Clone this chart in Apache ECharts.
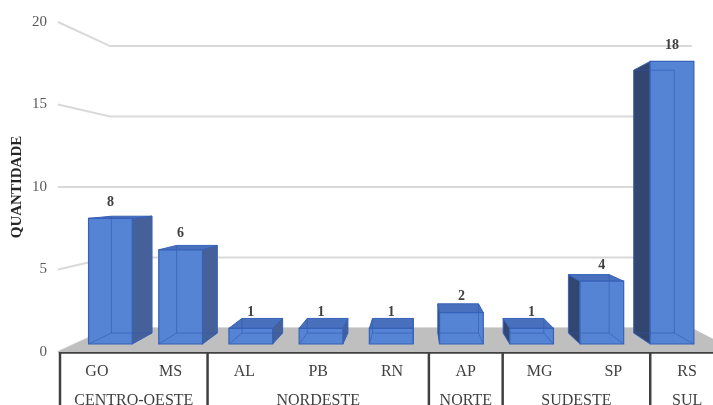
<!DOCTYPE html>
<html>
<head>
<meta charset="utf-8">
<script src="https://cdn.jsdelivr.net/npm/echarts@6/dist/echarts.min.js"></script>
<style>
  html, body { margin: 0; padding: 0; background: #ffffff; }
  #chart { width: 713px; height: 405px; }
</style>
</head>
<body>
<div id="chart"></div>
<script>
// Quantidade por estado, agrupada por região
const regions = ['CENTRO-OESTE', 'NORDESTE', 'NORTE', 'SUDESTE', 'SUL'];
const states = ['GO', 'MS', 'AL', 'PB', 'RN', 'AP', 'MG', 'SP', 'RS'];
const stateRegion = [0, 0, 1, 1, 1, 2, 3, 3, 4];
const quantities = [8, 6, 1, 1, 1, 2, 1, 4, 18];
const yTicks = [0, 5, 10, 15, 20];

// perspective setup: vanishing point x, eye level value, depth scales
const VP_X = 415;
const EYE_VALUE = 10;
const K_WALL = 0.854;      // back wall
const K_BAR_FRONT = 0.9515;
const K_BAR_BACK = 0.885;
const BAR_RATIO = 0.623;
const BAR_SHIFT = -2;
const FLOOR_EXTRA = 15;
const SERIF = '"Liberation Serif", "Times New Roman", serif';

function project(x, y, k, hy) {
  return [VP_X + (x - VP_X) * k, hy + (y - hy) * k];
}

// grouping of states into region spans
const groupSpans = regions.map((name, g) => {
  const idx = stateRegion.map((r, i) => (r === g ? i : -1)).filter(i => i >= 0);
  return [idx[0], idx.length];
});

const chart = echarts.init(document.getElementById('chart'), null, { renderer: 'canvas' });

const option = {
  animation: false,
  backgroundColor: '#ffffff',
  grid: {
    left: 60, top: 22, width: 664, height: 330,
    containLabel: false,
    outerBoundsMode: 'none'
  },
  xAxis: {
    type: 'category',
    data: states,
    axisLine: { show: true, lineStyle: { color: '#404040', width: 2.5 } },
    axisTick: { show: false },
    axisLabel: { color: '#404040', fontSize: 16, fontFamily: SERIF, margin: 12 },
    splitLine: { show: false }
  },
  yAxis: {
    type: 'value',
    min: 0, max: 20, interval: 5,
    name: 'QUANTIDADE',
    nameLocation: 'middle',
    nameGap: 35,
    nameMoveOverlap: false,
    nameTextStyle: { color: '#262626', fontSize: 15, fontWeight: 'bold', fontFamily: SERIF },
    axisLine: { show: false },
    axisTick: { show: false },
    axisLabel: { color: '#595959', fontSize: 15, fontFamily: SERIF, margin: 13 },
    splitLine: { show: false }
  },
  series: [
    // side wall + back wall gridlines
    {
      type: 'custom',
      z: 1,
      clip: false,
      silent: true,
      data: yTicks.map(v => [0, v]),
      renderItem(params, api) {
        const cs = params.coordSys;
        const hy = api.coord([0, EYE_VALUE])[1];
        const y = api.coord([0, api.value(1)])[1];
        const xl = cs.x - 2;
        const xr = cs.x + cs.width + FLOOR_EXTRA;
        const a = project(xl, y, 1, hy);
        const b = project(xl, y, K_WALL, hy);
        const c = project(xr, y, K_WALL, hy);
        return {
          type: 'polyline',
          shape: { points: [a, b, c] },
          style: { stroke: '#D9D9D9', lineWidth: 2, fill: null }
        };
      }
    },
    // floor
    {
      type: 'custom',
      z: 2,
      clip: false,
      silent: true,
      data: [[0, 0]],
      renderItem(params, api) {
        const cs = params.coordSys;
        const hy = api.coord([0, EYE_VALUE])[1];
        const y0 = api.coord([0, 0])[1];
        const xl = cs.x - 3;
        const xr = cs.x + cs.width + FLOOR_EXTRA;
        return {
          type: 'polygon',
          shape: {
            points: [
              project(xl, y0, 1, hy),
              project(xl, y0, K_WALL, hy),
              project(xr, y0, K_WALL, hy),
              project(xr, y0, 1, hy)
            ]
          },
          style: { fill: '#BFBFBF', stroke: null }
        };
      }
    },
    // 3D bars
    {
      type: 'custom',
      z: 3,
      clip: false,
      silent: true,
      data: states.map((s, i) => [i, quantities[i]]),
      renderItem(params, api) {
        const i = api.value(0);
        const v = api.value(1);
        const hy = api.coord([0, EYE_VALUE])[1];
        const base = api.coord([i, 0]);
        const yb = base[1];
        const yt = api.coord([i, v])[1];
        const half = api.size([1, 0])[0] * BAR_RATIO / 2;
        const xl = base[0] + BAR_SHIFT - half;
        const xr = base[0] + BAR_SHIFT + half;
        const face = k => ({
          bl: project(xl, yb, k, hy), br: project(xr, yb, k, hy),
          tr: project(xr, yt, k, hy), tl: project(xl, yt, k, hy)
        });
        const f = face(K_BAR_FRONT);
        const b = face(K_BAR_BACK);
        const edge = '#3562B8';
        const children = [];

        // visible side face
        if (f.tl[0] > VP_X) {
          children.push({
            type: 'polygon',
            shape: { points: [f.bl, b.bl, b.tl, f.tl] },
            style: { fill: '#33466F', stroke: edge, lineWidth: 1 }
          });
        } else if (f.tr[0] < VP_X) {
          children.push({
            type: 'polygon',
            shape: { points: [f.br, b.br, b.tr, f.tr] },
            style: { fill: '#46609A', stroke: edge, lineWidth: 1 }
          });
        }
        // top face, seen from above when below eye level
        if (yt > hy) {
          children.push({
            type: 'polygon',
            shape: { points: [f.tl, f.tr, b.tr, b.tl] },
            style: { fill: '#4970BD', stroke: edge, lineWidth: 1 }
          });
        }
        // front face
        children.push({
          type: 'polygon',
          shape: { points: [f.bl, f.br, f.tr, f.tl] },
          style: { fill: '#5584D4', stroke: null }
        });
        // hidden edges showing through the translucent box
        const hidden = [];
        if (f.tl[0] > VP_X) {
          hidden.push([b.bl, b.br], [b.br, b.tr], [f.br, b.br]);
        } else if (f.tr[0] < VP_X) {
          hidden.push([b.bl, b.br], [b.bl, b.tl], [f.bl, b.bl]);
        } else {
          hidden.push([b.bl, b.br], [b.bl, b.tl], [b.br, b.tr], [f.bl, b.bl], [f.br, b.br]);
        }
        if (yt <= hy) {
          hidden.push([b.tl, b.tr]);
        }
        hidden.forEach(seg => {
          children.push({
            type: 'line',
            shape: { x1: seg[0][0], y1: seg[0][1], x2: seg[1][0], y2: seg[1][1] },
            style: { stroke: 'rgba(45, 85, 175, 0.55)', lineWidth: 1 }
          });
        });
        // front outline
        children.push({
          type: 'polygon',
          shape: { points: [f.bl, f.br, f.tr, f.tl] },
          style: { fill: null, stroke: edge, lineWidth: 1.2 }
        });
        // value label
        children.push({
          type: 'text',
          style: {
            text: String(v),
            x: (f.tl[0] + f.tr[0]) / 2,
            y: f.tl[1] - 16,
            align: 'center',
            verticalAlign: 'middle',
            textAlign: 'center',
            textVerticalAlign: 'middle',
            font: 'bold 14px ' + SERIF,
            fill: '#404040'
          }
        });
        return { type: 'group', children };
      }
    },
    // region row of the category table
    {
      type: 'custom',
      z: 4,
      clip: false,
      silent: true,
      data: groupSpans.map(s => [s[0], s[1]]),
      renderItem(params, api) {
        const cs = params.coordSys;
        const start = api.value(0);
        const count = api.value(1);
        const band = api.size([1, 0])[0];
        const y0 = api.coord([0, 0])[1];
        const x0 = cs.x + start * band;
        const x1 = x0 + count * band;
        const children = [
          {
            type: 'line',
            shape: { x1: x0, y1: y0, x2: x0, y2: y0 + 60 },
            style: { stroke: '#404040', lineWidth: 2.5 }
          },
          {
            type: 'text',
            style: {
              text: regions[params.dataIndex],
              x: (x0 + x1) / 2,
              y: y0 + 49,
              align: 'center',
              verticalAlign: 'middle',
              textAlign: 'center',
              textVerticalAlign: 'middle',
              font: '16px ' + SERIF,
              fill: '#404040'
            }
          }
        ];
        if (params.dataIndex === groupSpans.length - 1) {
          children.push({
            type: 'line',
            shape: { x1: x1, y1: y0, x2: x1, y2: y0 + 60 },
            style: { stroke: '#404040', lineWidth: 2.5 }
          });
        }
        return { type: 'group', children };
      }
    }
  ]
};

chart.setOption(option);
</script>
</body>
</html>
